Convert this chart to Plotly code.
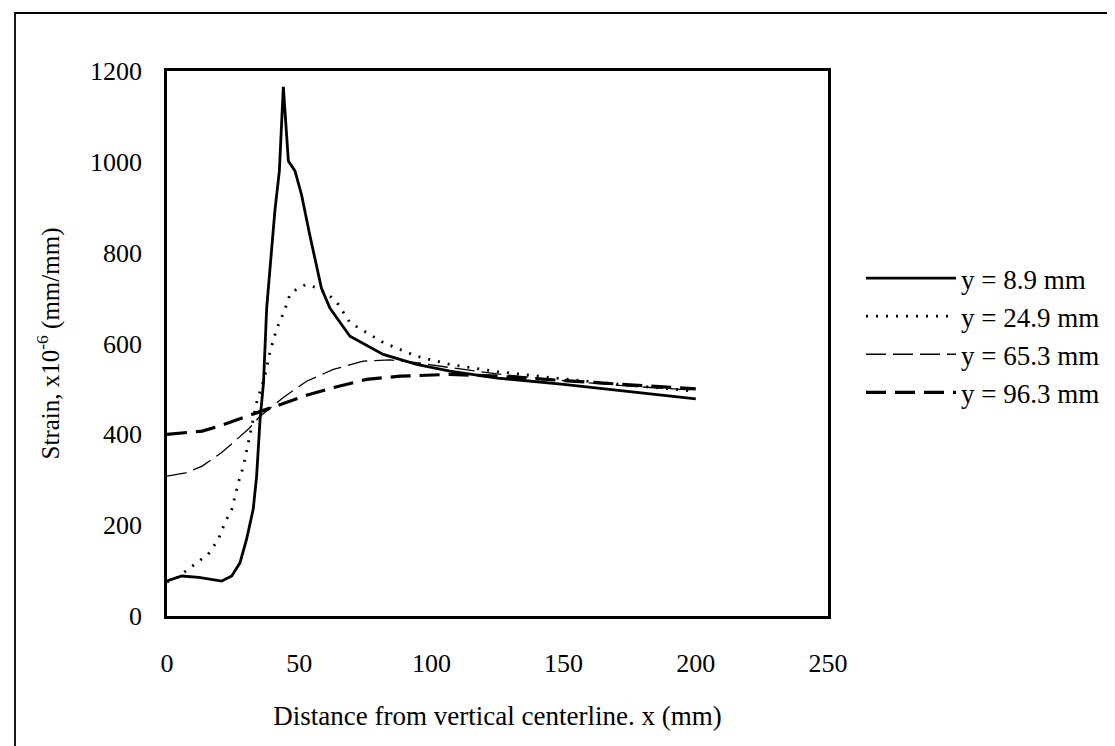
import plotly.graph_objects as go

# ---- data ----
x_89 = [0, 5.6, 12, 20.7, 24.5, 27.6, 30.1, 32.6, 33.9, 35.2, 36.5, 37.7, 40.8, 42.5, 44.0,
        45.9, 48.4, 50.9, 54.0, 56.5, 58.4, 61.6, 69.2, 81.8, 94.4, 107, 125, 150, 175, 200]
s_89 = [77, 88, 85, 77, 88, 117, 169, 235, 308, 433, 514, 678, 892, 980, 1165,
        1002, 980, 927, 839, 773, 722, 678, 616, 576, 554, 539, 524, 510, 494, 478]

x_249 = [0, 4, 8.7, 15.6, 19.4, 21.9, 24.5, 27, 28.9, 30.8, 32.1, 33.9, 37, 38.9, 41.4, 44.6,
         46.5, 49.5, 52.8, 57, 61.6, 64.8, 69.2, 81.8, 94.4, 107, 125, 150, 175, 200]
s_249 = [75, 85, 106, 136, 169, 205, 235, 294, 330, 385, 418, 470, 528, 580, 631, 675,
         708, 722, 730, 722, 705, 686, 646, 602, 572, 554, 538, 522, 508, 495]

x_653 = [0, 7.0, 13.3, 20.7, 25.1, 31.4, 35.2, 44, 52.8, 62.9, 74.2, 84.3, 94.4, 107, 125, 150, 175, 200]
s_653 = [308, 315, 330, 360, 382, 415, 440, 481, 517, 543, 561, 564, 558, 547, 533, 518, 506, 497]

x_963 = [0, 13.3, 19.6, 27.2, 35.2, 44, 52.8, 62.9, 75.5, 88.1, 107, 125, 150, 175, 200]
s_963 = [400, 407, 418, 433, 450, 468, 486, 503, 521, 528, 532, 528, 518, 509, 500]

labels = ["y = 8.9 mm", "y = 24.9 mm", "y = 65.3 mm", "y = 96.3 mm"]
x_ticks = [0, 50, 100, 150, 200, 250]
y_ticks = [0, 200, 400, 600, 800, 1000, 1200]

FONT = "Liberation Serif"

fig = go.Figure()
fig.add_trace(go.Scatter(x=x_89, y=s_89, mode="lines", name=labels[0],
                         line=dict(color="black", width=2.8)))
fig.add_trace(go.Scatter(x=x_249, y=s_249, mode="lines", name=labels[1],
                         line=dict(color="black", width=2.8, dash="2px,8px")))
fig.add_trace(go.Scatter(x=x_653, y=s_653, mode="lines", name=labels[2],
                         line=dict(color="black", width=1.3, dash="20px,7px")))
fig.add_trace(go.Scatter(x=x_963, y=s_963, mode="lines", name=labels[3],
                         line=dict(color="black", width=3.2, dash="20px,9px")))

L, R, T, B = 159, 820, 63, 608
W, H = 1115, 746
pw, ph = R - L, B - T

def px2paper_x(p):
    return (p - L) / pw

def px2paper_y(p):
    return (B - p) / ph

# outer chart border
fig.add_shape(type="rect", xref="paper", yref="paper",
              x0=px2paper_x(7), x1=px2paper_x(1107), y0=px2paper_y(739), y1=px2paper_y(5),
              line=dict(color="black", width=1.8), fillcolor="rgba(0,0,0,0)", layer="below")

fig.update_layout(
    width=W, height=H,
    margin=dict(l=L, r=W - R, t=T, b=H - B, autoexpand=False),
    paper_bgcolor="white", plot_bgcolor="white",
    font=dict(family=FONT, size=26, color="black"),
    showlegend=True,
    legend=dict(x=px2paper_x(853), y=px2paper_y(246), xanchor="left", yanchor="top",
                font=dict(family=FONT, size=27, color="black"),
                bgcolor="rgba(0,0,0,0)", tracegroupgap=0, itemwidth=90,
                traceorder="normal"),
    xaxis=dict(range=[0, 250], tickvals=x_ticks, ticktext=[str(v) for v in x_ticks],
               showgrid=False, zeroline=False, showline=True, linecolor="black", linewidth=2.5,
               mirror=True, ticks="", ticklabelstandoff=22,
               tickfont=dict(family=FONT, size=26),
               title=dict(text="Distance from vertical centerline. x (mm)", standoff=30,
                          font=dict(family=FONT, size=27))),
    yaxis=dict(range=[0, 1200], tickvals=y_ticks, ticktext=[str(v) for v in y_ticks],
               showgrid=False, zeroline=False, showline=True, linecolor="black", linewidth=2.5,
               mirror=True, ticks="", ticklabelstandoff=17,
               tickfont=dict(family=FONT, size=26),
               title=dict(text="Strain, x10<sup>-6</sup> (mm/mm)", standoff=24,
                          font=dict(family=FONT, size=25))),
)

fig.write_html("out.html")
